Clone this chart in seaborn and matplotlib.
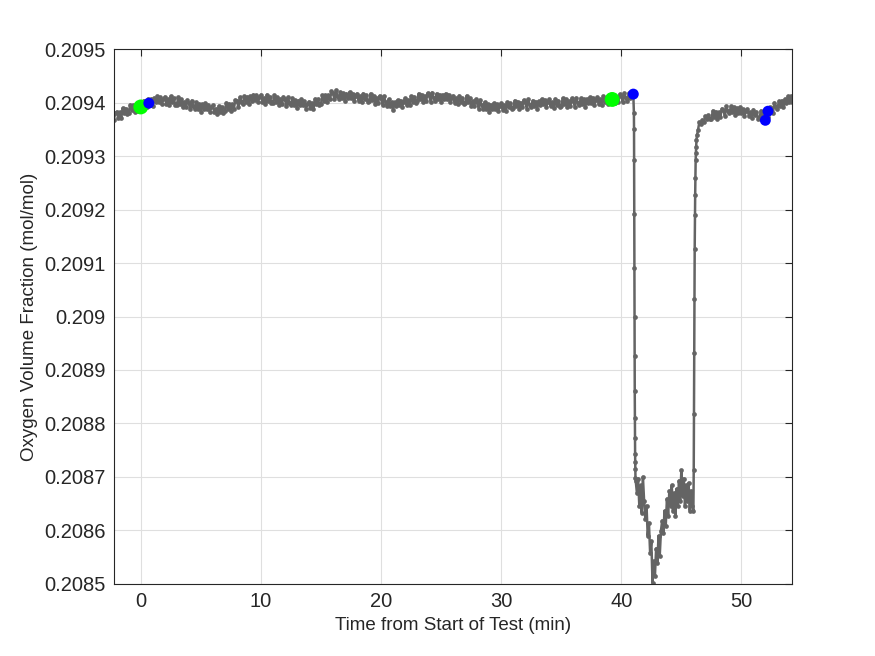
import numpy as np
import pandas as pd
import matplotlib
matplotlib.use("Agg")
import matplotlib.pyplot as plt
import seaborn as sns

# steady readings before the event, every 0.125 min from -2.25 to 41.0
t_base = np.linspace(-2.25, 41.0, 347)
o2_base = [
    0.209368, 0.209380,
    0.209383, 0.209372, 0.209382, 0.209372, 0.209390, 0.209380, 0.209389, 0.209378,  # -2
    0.209381, 0.209396, 0.209386, 0.209395, 0.209382, 0.209394, 0.209385, 0.209400,  # -1
    0.209397, 0.209386, 0.209404, 0.209396, 0.209392, 0.209407, 0.209397, 0.209407,  # 0
    0.209394, 0.209409, 0.209401, 0.209412, 0.209402, 0.209410, 0.209397, 0.209406,  # 1
    0.209411, 0.209398, 0.209406, 0.209395, 0.209412, 0.209401, 0.209408, 0.209395,  # 2
    0.209396, 0.209410, 0.209398, 0.209406, 0.209391, 0.209401, 0.209391, 0.209405,  # 3
    0.209400, 0.209388, 0.209404, 0.209394, 0.209388, 0.209401, 0.209389, 0.209398,  # 4
    0.209383, 0.209397, 0.209388, 0.209399, 0.209388, 0.209396, 0.209383, 0.209391,  # 5
    0.209395, 0.209382, 0.209389, 0.209378, 0.209394, 0.209383, 0.209391, 0.209381,  # 6
    0.209385, 0.209400, 0.209389, 0.209398, 0.209385, 0.209397, 0.209389, 0.209405,  # 7
    0.209403, 0.209392, 0.209410, 0.209402, 0.209398, 0.209412, 0.209402, 0.209411,  # 8
    0.209397, 0.209412, 0.209404, 0.209415, 0.209405, 0.209414, 0.209401, 0.209410,  # 9
    0.209415, 0.209402, 0.209409, 0.209398, 0.209415, 0.209404, 0.209411, 0.209399,  # 10
    0.209400, 0.209414, 0.209402, 0.209410, 0.209396, 0.209407, 0.209397, 0.209411,  # 11
    0.209406, 0.209394, 0.209410, 0.209400, 0.209395, 0.209408, 0.209396, 0.209405,  # 12
    0.209390, 0.209404, 0.209395, 0.209406, 0.209395, 0.209403, 0.209389, 0.209398,  # 13
    0.209402, 0.209390, 0.209399, 0.209389, 0.209407, 0.209397, 0.209406, 0.209395,  # 14
    0.209398, 0.209414, 0.209404, 0.209414, 0.209401, 0.209414, 0.209406, 0.209421,  # 15
    0.209418, 0.209406, 0.209423, 0.209413, 0.209407, 0.209420, 0.209409, 0.209418,  # 16
    0.209403, 0.209417, 0.209409, 0.209420, 0.209409, 0.209417, 0.209403, 0.209412,  # 17
    0.209417, 0.209404, 0.209412, 0.209401, 0.209417, 0.209406, 0.209414, 0.209402,  # 18
    0.209403, 0.209417, 0.209405, 0.209413, 0.209398, 0.209409, 0.209400, 0.209413,  # 19
    0.209408, 0.209396, 0.209412, 0.209401, 0.209394, 0.209406, 0.209393, 0.209401,  # 20
    0.209386, 0.209401, 0.209393, 0.209405, 0.209395, 0.209404, 0.209392, 0.209402,  # 21
    0.209408, 0.209396, 0.209405, 0.209395, 0.209412, 0.209402, 0.209411, 0.209400,  # 22
    0.209403, 0.209417, 0.209406, 0.209415, 0.209401, 0.209412, 0.209403, 0.209418,  # 23
    0.209414, 0.209402, 0.209419, 0.209409, 0.209404, 0.209417, 0.209406, 0.209415,  # 24
    0.209401, 0.209415, 0.209406, 0.209417, 0.209407, 0.209415, 0.209401, 0.209409,  # 25
    0.209413, 0.209400, 0.209408, 0.209397, 0.209413, 0.209402, 0.209409, 0.209397,  # 26
    0.209399, 0.209413, 0.209401, 0.209408, 0.209393, 0.209403, 0.209393, 0.209406,  # 27
    0.209401, 0.209389, 0.209405, 0.209395, 0.209389, 0.209401, 0.209389, 0.209397,  # 28
    0.209382, 0.209396, 0.209388, 0.209399, 0.209389, 0.209397, 0.209384, 0.209394,  # 29
    0.209399, 0.209387, 0.209395, 0.209384, 0.209401, 0.209391, 0.209399, 0.209388,  # 30
    0.209390, 0.209404, 0.209393, 0.209402, 0.209388, 0.209400, 0.209391, 0.209405,  # 31
    0.209401, 0.209389, 0.209406, 0.209396, 0.209391, 0.209404, 0.209393, 0.209402,  # 32
    0.209389, 0.209403, 0.209395, 0.209407, 0.209397, 0.209405, 0.209392, 0.209401,  # 33
    0.209406, 0.209393, 0.209401, 0.209390, 0.209407, 0.209396, 0.209404, 0.209392,  # 34
    0.209394, 0.209408, 0.209397, 0.209406, 0.209392, 0.209403, 0.209394, 0.209408,  # 35
    0.209404, 0.209392, 0.209409, 0.209400, 0.209395, 0.209408, 0.209397, 0.209406,  # 36
    0.209392, 0.209407, 0.209399, 0.209410, 0.209400, 0.209409, 0.209396, 0.209405,  # 37
    0.209410, 0.209397, 0.209406, 0.209395, 0.209412, 0.209401, 0.209409, 0.209398,  # 38
    0.209400, 0.209415, 0.209404, 0.209413, 0.209399, 0.209411, 0.209402, 0.209416,  # 39
    0.209412, 0.209401, 0.209418, 0.209409, 0.209404, 0.209418, 0.209408, 0.209419,  # 40
    0.209416,
]

# fast drop
t_drop = [41.05, 41.06, 41.07, 41.08, 41.09, 41.10, 41.11,
          41.12, 41.13, 41.14, 41.15, 41.16, 41.17, 41.18]
o2_drop = [0.209380, 0.209350, 0.209292, 0.209191, 0.209090, 0.209000, 0.208927,
           0.208860, 0.208811, 0.208773, 0.208743, 0.208727, 0.208715, 0.208698]

# trough, every 0.1 min from 41.2 to 46.0
t_trough = np.linspace(41.2, 46.0, 49)
o2_trough = [
    0.208693, 0.208670, 0.208697, 0.208646, 0.208684, 0.208633, 0.208700,
    0.208655, 0.208622, 0.208646, 0.208590, 0.208614, 0.208558, 0.208580,
    0.208502, 0.208543, 0.208515, 0.208566, 0.208539, 0.208590, 0.208552,
    0.208599, 0.208618, 0.208595, 0.208637, 0.208609, 0.208659, 0.208627,
    0.208674, 0.208646, 0.208684, 0.208637, 0.208670, 0.208627, 0.208678,
    0.208646, 0.208693, 0.208655, 0.208712, 0.208665, 0.208697, 0.208646,
    0.208684, 0.208655, 0.208689, 0.208637, 0.208674, 0.208646, 0.208637,
]

# return to ambient
t_rise = [46.03, 46.05, 46.07, 46.09, 46.11, 46.13, 46.15,
          46.17, 46.19, 46.21, 46.23, 46.26, 46.30, 46.38]
o2_rise = [0.208712, 0.208818, 0.208931, 0.209032, 0.209126, 0.209189, 0.209227,
           0.209260, 0.209292, 0.209305, 0.209317, 0.209330, 0.209339, 0.209348]

# recovered readings, every 0.125 min from 46.5 to 54.25
t_end = np.linspace(46.5, 54.25, 63)
o2_end = [
    0.209364, 0.209361, 0.209368, 0.209364, 0.209375, 0.209370, 0.209376, 0.209370,
    0.209370, 0.209385, 0.209374, 0.209383, 0.209370, 0.209382, 0.209374, 0.209389,
    0.209386, 0.209375, 0.209393, 0.209384, 0.209380, 0.209393, 0.209382, 0.209391,
    0.209376, 0.209390, 0.209381, 0.209391, 0.209380, 0.209388, 0.209375, 0.209384,
    0.209388, 0.209375, 0.209382, 0.209371, 0.209387, 0.209376, 0.209383, 0.209370,
    0.209371, 0.209385, 0.209373, 0.209381, 0.209367, 0.209381, 0.209374, 0.209391,
    0.209390, 0.209381, 0.209400, 0.209392, 0.209389, 0.209403, 0.209393, 0.209404,
    0.209392, 0.209407, 0.209400, 0.209412, 0.209402, 0.209412, 0.209401,
]

green_t = [0.0, 39.24]
green_o2 = [0.209392, 0.209406]
blue_t = [0.67, 41.0, 51.99, 52.21]
blue_o2 = [0.209399, 0.209416, 0.209367, 0.209384]

x_ticks = [0, 10, 20, 30, 40, 50]
y_ticks = [0.2085, 0.2086, 0.2087, 0.2088, 0.2089, 0.2090,
           0.2091, 0.2092, 0.2093, 0.2094, 0.2095]
y_tick_labels = ["0.2085", "0.2086", "0.2087", "0.2088", "0.2089", "0.209",
                 "0.2091", "0.2092", "0.2093", "0.2094", "0.2095"]

df = pd.DataFrame({
    "t": np.concatenate([t_base, t_drop, t_trough, t_rise, t_end]),
    "o2": np.concatenate([o2_base, o2_drop, o2_trough, o2_rise, o2_end]),
})

sns.set_style("white")
plt.rcParams['font.family'] = ['Liberation Sans', 'DejaVu Sans']

fig, ax = plt.subplots(figsize=(8.75, 6.56), dpi=100)
fig.subplots_adjust(left=0.13, right=0.905, bottom=0.11, top=0.925)

sns.lineplot(data=df, x="t", y="o2", sort=False, estimator=None, color="#646464",
             linewidth=1.8, marker="o", markersize=3.4, markeredgewidth=0, ax=ax)
sns.scatterplot(x=green_t, y=green_o2, color=(0, 1, 0), s=115, edgecolor="none",
                ax=ax, zorder=3)
sns.scatterplot(x=blue_t, y=blue_o2, color=(0, 0, 1), s=62, edgecolor="none",
                ax=ax, zorder=4)

ax.set_xlim(-2.25, 54.2)
ax.set_ylim(0.2085, 0.2095)
ax.set_xticks(x_ticks)
ax.set_xticklabels([str(v) for v in x_ticks])
ax.set_yticks(y_ticks)
ax.set_yticklabels(y_tick_labels)
ax.tick_params(direction="in", top=True, right=True, length=5, width=0.8,
               labelsize=14.5, colors="#262626", pad=6)
ax.grid(True, color="#dfdfdf", linewidth=0.8)
ax.set_axisbelow(True)
for sp in ax.spines.values():
    sp.set_visible(True)
    sp.set_color("#262626")
    sp.set_linewidth(0.8)

ax.set_xlabel("Time from Start of Test (min)", fontsize=13.5, color="#262626")
ax.set_ylabel("Oxygen Volume Fraction (mol/mol)", fontsize=13.5, color="#262626")

plt.savefig("out.png", dpi=100)
plt.close()
